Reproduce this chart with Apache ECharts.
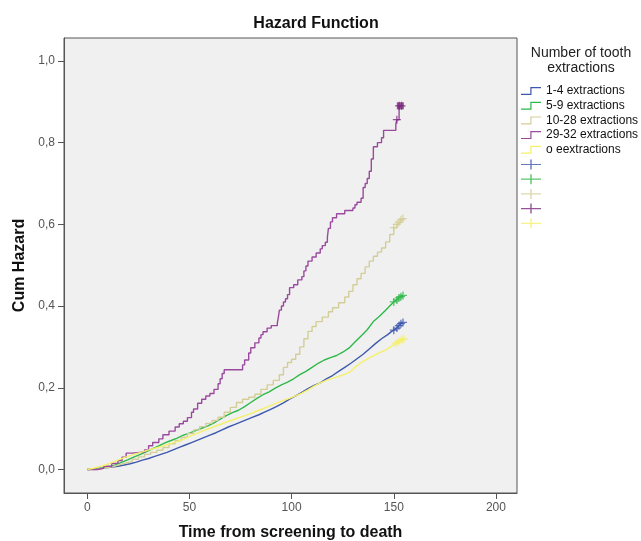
<!DOCTYPE html>
<html>
<head>
<meta charset="utf-8">
<script src="https://cdn.jsdelivr.net/npm/echarts@6/dist/echarts.min.js"></script>
<style>
  html, body { margin: 0; padding: 0; background: #fff; }
  #chart { width: 641px; height: 541px; }
</style>
</head>
<body>
<div id="chart"></div>
<script>
// cumulative hazard points [time, cum hazard]
const groupNames = ['1-4 extractions', '5-9 extractions', '10-28 extractions', '29-32 extractions', 'o eextractions']
const lineColors = ['#3E58AC', '#2EB848', '#D3CE97', '#9A4A9E', '#F5F06A']
const markColors = ['#3E58AC', '#2EB848', '#D3CE97', '#7C287D', '#F5F06A']
// SPSS draws the big groups with fine steps, so those read as smooth lines
const stepped = [false, false, true, true, false]

const hz1to4 = [[0,0],[5,0.002],[9,0.004],[12,0.006],[15,0.008],[18,0.011],[21,0.014],[24,0.018],[27,0.023],[30,0.027],[33,0.032],[36,0.037],[39,0.042],[42,0.048],[45,0.054],[48,0.06],[51,0.066],[54,0.072],[57,0.078],[60,0.084],[63,0.09],[66,0.097],[69,0.104],[72,0.11],[75,0.116],[78,0.122],[81,0.128],[84,0.134],[87,0.141],[90,0.148],[93,0.155],[96,0.163],[99,0.172],[102,0.18],[105,0.189],[108,0.198],[111,0.206],[114,0.212],[117,0.222],[120,0.23],[123,0.24],[126,0.25],[129,0.26],[132,0.271],[135,0.282],[138,0.295],[141,0.308],[144,0.32],[147,0.33],[149,0.338],[150,0.341],[151.5,0.346],[152.5,0.352],[153.5,0.357],[154.5,0.36]]
const hz5to9 = [[0,0],[4,0.002],[8,0.004],[11,0.007],[14,0.012],[17,0.018],[20,0.024],[23,0.031],[26,0.037],[29,0.044],[32,0.051],[35,0.058],[38,0.065],[41,0.071],[44,0.077],[47,0.084],[50,0.089],[53,0.095],[56,0.101],[59,0.107],[62,0.114],[65,0.123],[68,0.132],[71,0.139],[74,0.145],[77,0.154],[80,0.164],[83,0.174],[86,0.183],[89,0.19],[92,0.199],[95,0.207],[98,0.214],[101,0.222],[104,0.232],[107,0.24],[110,0.25],[113,0.26],[116,0.268],[119,0.274],[122,0.279],[125,0.287],[128,0.297],[131,0.312],[134,0.327],[137,0.342],[140,0.362],[143,0.375],[146,0.39],[148,0.4],[150,0.41],[151.5,0.415],[152.5,0.42],[153.5,0.423],[154.5,0.426]]
const hz10to28 = [[0,0],[4,0.002],[7,0.005],[10,0.008],[13,0.012],[16,0.016],[19,0.02],[22,0.025],[25,0.031],[28,0.037],[31,0.042],[34,0.047],[37,0.054],[40,0.063],[43,0.071],[46,0.079],[49,0.088],[52,0.097],[55,0.105],[58,0.113],[61,0.12],[64,0.128],[67,0.14],[70,0.152],[73,0.164],[76,0.172],[79,0.177],[82,0.184],[85,0.196],[88,0.207],[91,0.218],[94,0.232],[96,0.25],[98,0.262],[100,0.27],[102,0.282],[104,0.3],[106,0.32],[108,0.338],[110,0.35],[112,0.362],[115,0.373],[118,0.386],[120,0.396],[123,0.408],[126,0.422],[128,0.436],[130,0.452],[132,0.467],[134,0.48],[136,0.496],[138,0.51],[140,0.522],[142,0.532],[144,0.542],[146,0.557],[148,0.575],[150,0.592],[151.5,0.6],[152.5,0.605],[153.5,0.611],[154.5,0.614]]
const hz29to32 = [[0,0],[5,0.003],[8,0.008],[12,0.015],[15,0.022],[17,0.03],[19,0.04],[22,0.043],[28,0.048],[30,0.058],[32,0.066],[35,0.075],[37,0.085],[40,0.094],[43,0.104],[45,0.112],[47,0.118],[49,0.127],[51,0.14],[52,0.148],[54,0.162],[56,0.172],[58,0.18],[60,0.186],[62,0.196],[64,0.21],[65,0.222],[66,0.235],[67,0.244],[76,0.256],[77,0.268],[79,0.285],[80,0.298],[82,0.31],[84,0.322],[85,0.33],[86,0.337],[88,0.346],[90,0.352],[93,0.358],[93.5,0.372],[94,0.39],[95,0.4],[96,0.41],[97,0.418],[98,0.428],[99,0.445],[101,0.452],[103,0.464],[105,0.472],[106,0.486],[107,0.498],[108,0.51],[110,0.52],[112,0.53],[114,0.54],[115,0.548],[116.5,0.556],[117.5,0.568],[118,0.59],[119,0.606],[120,0.616],[122,0.626],[126,0.634],[130,0.64],[131,0.648],[132,0.654],[134,0.664],[135,0.69],[136,0.7],[137,0.712],[138,0.73],[139,0.76],[140,0.79],[142,0.8],[144,0.812],[145,0.83],[151,0.845],[151.5,0.856],[152.6,0.89],[153.8,0.89]]
const hzNone = [[0,0],[3,0.003],[6,0.007],[9,0.011],[12,0.017],[15,0.023],[18,0.029],[21,0.034],[24,0.039],[27,0.043],[30,0.048],[33,0.052],[36,0.056],[39,0.061],[42,0.065],[45,0.07],[48,0.076],[51,0.083],[54,0.089],[57,0.095],[60,0.101],[63,0.107],[66,0.112],[69,0.118],[72,0.123],[75,0.128],[78,0.133],[81,0.139],[84,0.145],[87,0.151],[90,0.157],[93,0.163],[96,0.169],[99,0.174],[102,0.18],[105,0.187],[108,0.195],[111,0.204],[114,0.212],[117,0.218],[120,0.223],[123,0.228],[126,0.233],[129,0.24],[131,0.25],[134,0.262],[137,0.27],[140,0.278],[143,0.286],[146,0.292],[149,0.302],[151,0.308],[152,0.312],[153,0.315],[154,0.318],[155,0.32]]

// censored cases (+ marks)
const cens1to4 = [[150,0.341],[151.5,0.346],[152.5,0.352],[153.5,0.357],[154.5,0.36]]
const cens5to9 = [[150,0.41],[151.5,0.415],[152.5,0.42],[153.5,0.423],[154.5,0.426]]
const cens10to28 = [[150,0.592],[151.5,0.6],[152.5,0.605],[153.5,0.611],[154.5,0.614]]
const cens29to32 = [[151.5,0.856],[152.6,0.89],[153.2,0.89],[153.8,0.89]]
const censNone = [[151,0.308],[152,0.312],[153,0.315],[154,0.318],[155,0.32]]

const xTicks = [0, 50, 100, 150, 200]
const yTicks = [0, 0.2, 0.4, 0.6, 0.8, 1.0]

const hazards = [hz1to4, hz5to9, hz10to28, hz29to32, hzNone]
const censored = [cens1to4, cens5to9, cens10to28, cens29to32, censNone]

const FONT = '"Liberation Sans", Arial, sans-serif'
const stepIcon = 'path://M0,8.8h9.3v-6.8h10.7v1.2h-9.5v6.8h-10.5z'
const plusIcon = 'path://M0,4.4h9.3v-4.4h1.4v4.4h9.3v1.2h-9.3v4.4h-1.4v-4.4h-9.3z'
const plusSymbol = 'path://M4.2,0h1.6v4.2h4.2v1.6h-4.2v4.2h-1.6v-4.2h-4.2v-1.6h4.2z'

const chart = echarts.init(document.getElementById('chart'))

const series = []
groupNames.forEach((name, i) => {
  series.push({
    name: name,
    type: 'line',
    step: stepped[i] ? 'end' : false,
    showSymbol: false,
    data: hazards[i],
    lineStyle: { color: lineColors[i], width: 1.4 },
    itemStyle: { color: lineColors[i] },
    z: 2
  })
})
groupNames.forEach((name, i) => {
  const pts = censored[i].map((p, j) => {
    // the last purple case shows as a filled square
    if (i === 3 && j === censored[i].length - 2) return { value: p, symbol: 'rect', symbolSize: 7 }
    return p
  })
  series.push({
    name: '+' + i,
    type: 'scatter',
    symbol: plusSymbol,
    symbolSize: 8,
    data: pts,
    itemStyle: { color: markColors[i] },
    z: 3
  })
})

const legendData = groupNames.map(n => ({ name: n, icon: stepIcon }))
  .concat(groupNames.map((n, i) => ({ name: '+' + i, icon: plusIcon })))

const option = {
  animation: false,
  backgroundColor: '#fff',
  grid: {
    left: 64, right: 124, top: 38, bottom: 48,
    containLabel: false,
    outerBoundsMode: 'none',
    show: true,
    backgroundColor: '#f0f0f0',
    borderColor: '#555',
    borderWidth: 1
  },
  graphic: [
    {
      type: 'text', x: 316, y: 24,
      style: { text: 'Hazard Function', font: 'bold 16px ' + FONT, fill: '#111', align: 'center', verticalAlign: 'middle' }
    },
    {
      type: 'text', x: 581, y: 61,
      style: { text: 'Number of tooth\nextractions', font: '14px ' + FONT, lineHeight: 15, fill: '#222', align: 'center', verticalAlign: 'middle' }
    }
  ],
  legend: {
    orient: 'vertical',
    left: 521,
    top: 85,
    padding: 0,
    itemWidth: 20,
    itemHeight: 10,
    itemGap: 2.7,
    selectedMode: false,
    itemStyle: { borderWidth: 0 },
    textStyle: { fontFamily: FONT, fontSize: 12, color: '#111' },
    formatter: name => name.charAt(0) === '+' ? ' ' : name,
    data: legendData
  },
  xAxis: {
    type: 'value',
    min: -11.4,
    max: 210.3,
    name: 'Time from screening to death',
    nameLocation: 'middle',
    nameGap: 32,
    nameTextStyle: { fontFamily: FONT, fontSize: 16, fontWeight: 'bold', color: '#111' },
    axisLine: { show: true, onZero: false, lineStyle: { color: '#555' } },
    axisTick: { show: true, length: 6, customValues: xTicks, lineStyle: { color: '#555' } },
    axisLabel: { customValues: xTicks, fontFamily: FONT, fontSize: 12, color: '#555', margin: 9 },
    splitLine: { show: false }
  },
  yAxis: {
    type: 'value',
    min: -0.0575,
    max: 1.056,
    name: 'Cum Hazard',
    nameLocation: 'middle',
    nameGap: 30,
    nameTextStyle: { fontFamily: FONT, fontSize: 16, fontWeight: 'bold', color: '#111' },
    axisLine: { show: true, onZero: false, lineStyle: { color: '#555' } },
    axisTick: { show: true, length: 6, customValues: yTicks, lineStyle: { color: '#555' } },
    axisLabel: {
      customValues: yTicks,
      fontFamily: FONT, fontSize: 12, color: '#555', margin: 9,
      formatter: v => v.toFixed(1).replace('.', ',')
    },
    splitLine: { show: false }
  },
  series: series
}

chart.setOption(option)
</script>
</body>
</html>
